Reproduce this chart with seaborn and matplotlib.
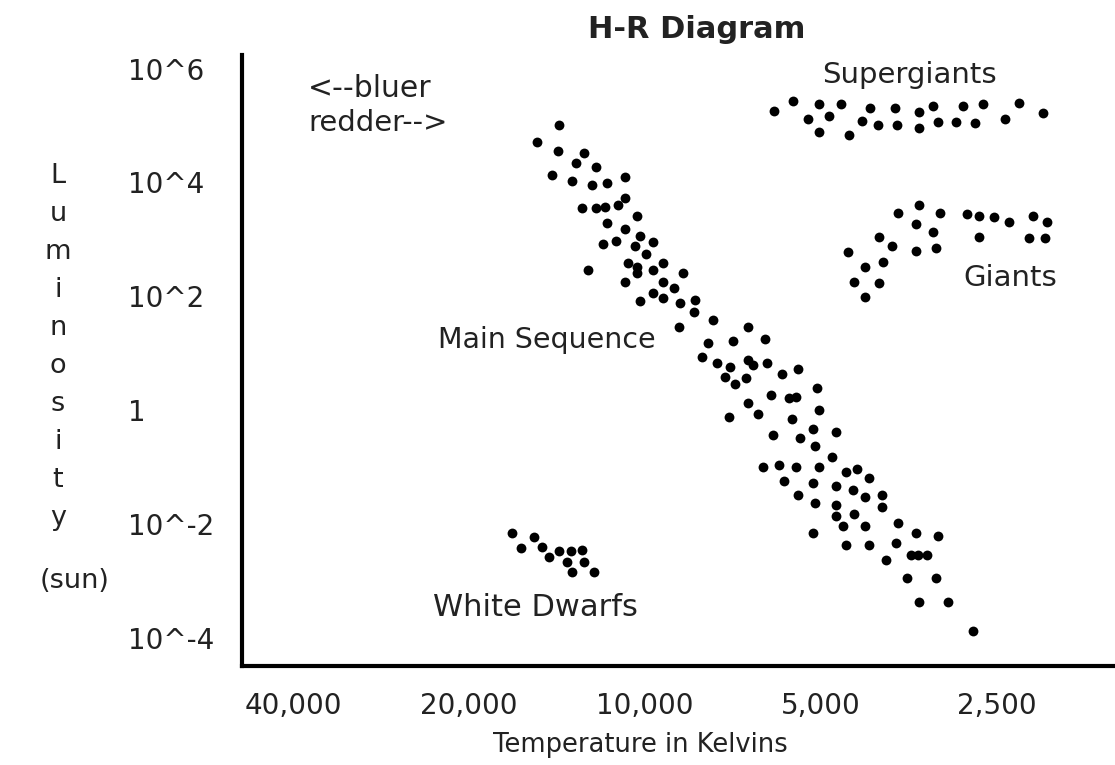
import matplotlib
matplotlib.use("Agg")
import matplotlib.pyplot as plt
import numpy as np
import pandas as pd
import seaborn as sns

# Surface temperature (K) and log10 luminosity (solar units) of each star, by group
supergiant_temp = [6020, 5580, 5040, 4620, 5260, 4850, 5040, 4480, 4250, 4120, 3990, 3740,
                   3710, 3400, 3400, 3220, 3150, 2930, 2850, 2720, 2640, 2420, 2290, 2080]
supergiant_logl = [5.25, 5.43, 5.38, 5.38, 5.11, 5.17, 4.89, 4.83, 5.08, 5.31, 5.01, 5.31,
                   5.01, 5.24, 4.96, 5.34, 5.06, 5.06, 5.34, 5.04, 5.38, 5.11, 5.40, 5.22]

giant_temp = [3400, 3690, 3130, 3430, 3220, 3980, 3770, 3430, 3180, 4500, 3920, 4200,
              4390, 3980, 4200, 2810, 2680, 2530, 2380, 2170, 2050, 2680, 2200, 2070]
giant_logl = [3.60, 3.46, 3.46, 3.27, 3.13, 3.04, 2.88, 2.79, 2.85, 2.78, 2.60, 2.51,
              2.25, 2.23, 1.99, 3.44, 3.41, 3.39, 3.30, 3.41, 3.30, 3.04, 3.02, 3.02]

main_seq_temp = [14000, 15300, 14100, 12700, 13100, 12100, 14400, 13300, 12300, 11600,
                 10800, 10800, 11100, 11700, 12100, 12800, 10300, 11600, 10800, 10200,
                 11200, 11800, 10400, 9700, 9960, 10700, 10300, 9300, 10300, 9700,
                 12500, 8600, 10800, 9300, 8900, 9700, 10200, 9300, 8700, 8200,
                 8250, 8750, 7650, 6670, 7070, 6230, 7800, 7990, 7530, 7160,
                 6670, 6540, 6190, 7300, 7020, 6720, 5830, 5470, 5080, 6090,
                 5670, 5520, 6670, 5040, 6410, 7180, 5600, 5160, 6040, 5430,
                 4710, 5120, 4790, 6280, 5900, 5520, 5040, 4530, 4340, 4140,
                 5780, 5160, 4710, 4410, 4200, 3930, 5470, 5120, 4710, 3930,
                 4710, 4390, 4590, 4200, 3690, 5160, 3430, 3150, 4530, 4140,
                 3720, 3860, 3510, 3410, 3290, 3560, 3180, 3400, 3030, 2740]
main_seq_logl = [5.01, 4.71, 4.55, 4.52, 4.34, 4.27, 4.13, 4.02, 3.95, 3.99,
                 4.10, 3.73, 3.60, 3.57, 3.55, 3.55, 3.41, 3.29, 3.18, 3.06,
                 2.97, 2.92, 2.88, 2.95, 2.74, 2.58, 2.51, 2.58, 2.41, 2.46,
                 2.46, 2.41, 2.25, 2.25, 2.14, 2.06, 1.92, 1.97, 1.88, 1.93,
                 1.72, 1.46, 1.58, 1.46, 1.21, 1.25, 1.18, 0.93, 0.83, 0.76,
                 0.88, 0.79, 0.83, 0.58, 0.46, 0.56, 0.63, 0.72, 0.39, 0.26,
                 0.21, 0.23, 0.12, 0.00, -0.07, -0.12, -0.16, -0.33, -0.44, -0.49,
                 -0.39, -0.63, -0.83, -1.00, -0.97, -1.00, -1.00, -1.09, -1.04, -1.20,
                 -1.25, -1.28, -1.34, -1.41, -1.53, -1.49, -1.49, -1.63, -1.67, -1.70,
                 -1.86, -1.83, -2.04, -2.04, -1.99, -2.16, -2.16, -2.21, -2.37, -2.37,
                 -2.34, -2.64, -2.55, -2.55, -2.55, -2.95, -2.95, -3.37, -3.37, -3.88]

white_dwarf_temp = [16900, 16300, 15500, 15000, 14600, 14000, 13400, 12800, 13600, 12700,
                    13300, 12200]
white_dwarf_logl = [-2.16, -2.43, -2.23, -2.41, -2.58, -2.48, -2.48, -2.46, -2.67, -2.67,
                    -2.85, -2.85]

temp_ticks = [40000, 20000, 10000, 5000, 2500]
temp_tick_labels = ["40,000", "20,000", "10,000", "5,000", "2,500"]
logl_ticks = [6, 4, 2, 0, -2, -4]
logl_tick_labels = ["10^6", "10^4", "10^2", "1", "10^-2", "10^-4"]

stars = pd.concat([
    pd.DataFrame({"temp": supergiant_temp, "logl": supergiant_logl, "group": "Supergiants"}),
    pd.DataFrame({"temp": giant_temp, "logl": giant_logl, "group": "Giants"}),
    pd.DataFrame({"temp": main_seq_temp, "logl": main_seq_logl, "group": "Main Sequence"}),
    pd.DataFrame({"temp": white_dwarf_temp, "logl": white_dwarf_logl, "group": "White Dwarfs"}),
], ignore_index=True)

sns.set_style("white")
plt.rcParams["font.family"] = ["DejaVu Sans"]
text_color = "#222222"

W, H = 1115, 765
fig = plt.figure(figsize=(W / 100, H / 100), dpi=100)
ax = fig.add_axes([242 / W, 99 / H, (W - 242) / W, (666 - 55) / H])

sns.scatterplot(data=stars, x="temp", y="logl", color="black", s=50,
                linewidth=0, legend=False, ax=ax)

ax.set_xscale("log", base=2)
ax.set_xlim(48900, 1569)
ax.set_ylim(-4.50, 6.24)
ax.minorticks_off()

ax.set_xticks(temp_ticks)
ax.set_xticklabels(temp_tick_labels)
ax.set_yticks(logl_ticks)
ax.set_yticklabels(logl_tick_labels)
for lab in ax.get_yticklabels():
    lab.set_horizontalalignment("left")
ax.tick_params(axis="x", length=0, pad=19, labelsize=20, labelcolor=text_color)
ax.tick_params(axis="y", length=0, pad=82, labelsize=20, labelcolor=text_color)
ax.set_xlabel("")
ax.set_ylabel("")

sns.despine(ax=ax)
for side in ("left", "bottom"):
    ax.spines[side].set_linewidth(3)
    ax.spines[side].set_color("black")

# Region labels
label_kw = dict(color=text_color, va="center")
ax.text(3520, 5.89, "Supergiants", ha="center", fontsize=21, **label_kw)
ax.text(2370, 2.32, "Giants", ha="center", fontsize=21, **label_kw)
ax.text(14710, 1.23, "Main Sequence", ha="center", fontsize=20.5, **label_kw)
ax.text(15420, -3.48, "White Dwarfs", ha="center", fontsize=22, **label_kw)
ax.text(37700, 5.65, "<--bluer", ha="left", fontsize=21.5, **label_kw)
ax.text(37700, 5.04, "redder-->", ha="left", fontsize=21, **label_kw)

# Title and axis titles
fig.text(697 / W, 1 - 29 / H, "H-R Diagram", ha="center", va="center",
         fontsize=22, fontweight="bold", color=text_color)
fig.text(640 / W, 1 - 745 / H, "Temperature in Kelvins", ha="center", va="center",
         fontsize=18.5, color=text_color)

# Vertical axis title, one letter per row
letter_rows = np.linspace(176, 518, len("Luminosity"))
for letter, row in zip("Luminosity", letter_rows):
    fig.text(58 / W, 1 - row / H, letter, ha="center", va="center",
             fontsize=19.5, color=text_color)
fig.text(75 / W, 1 - 581 / H, "(sun)", ha="center", va="center",
         fontsize=19.5, color=text_color)

fig.savefig("out.png", dpi=100)
